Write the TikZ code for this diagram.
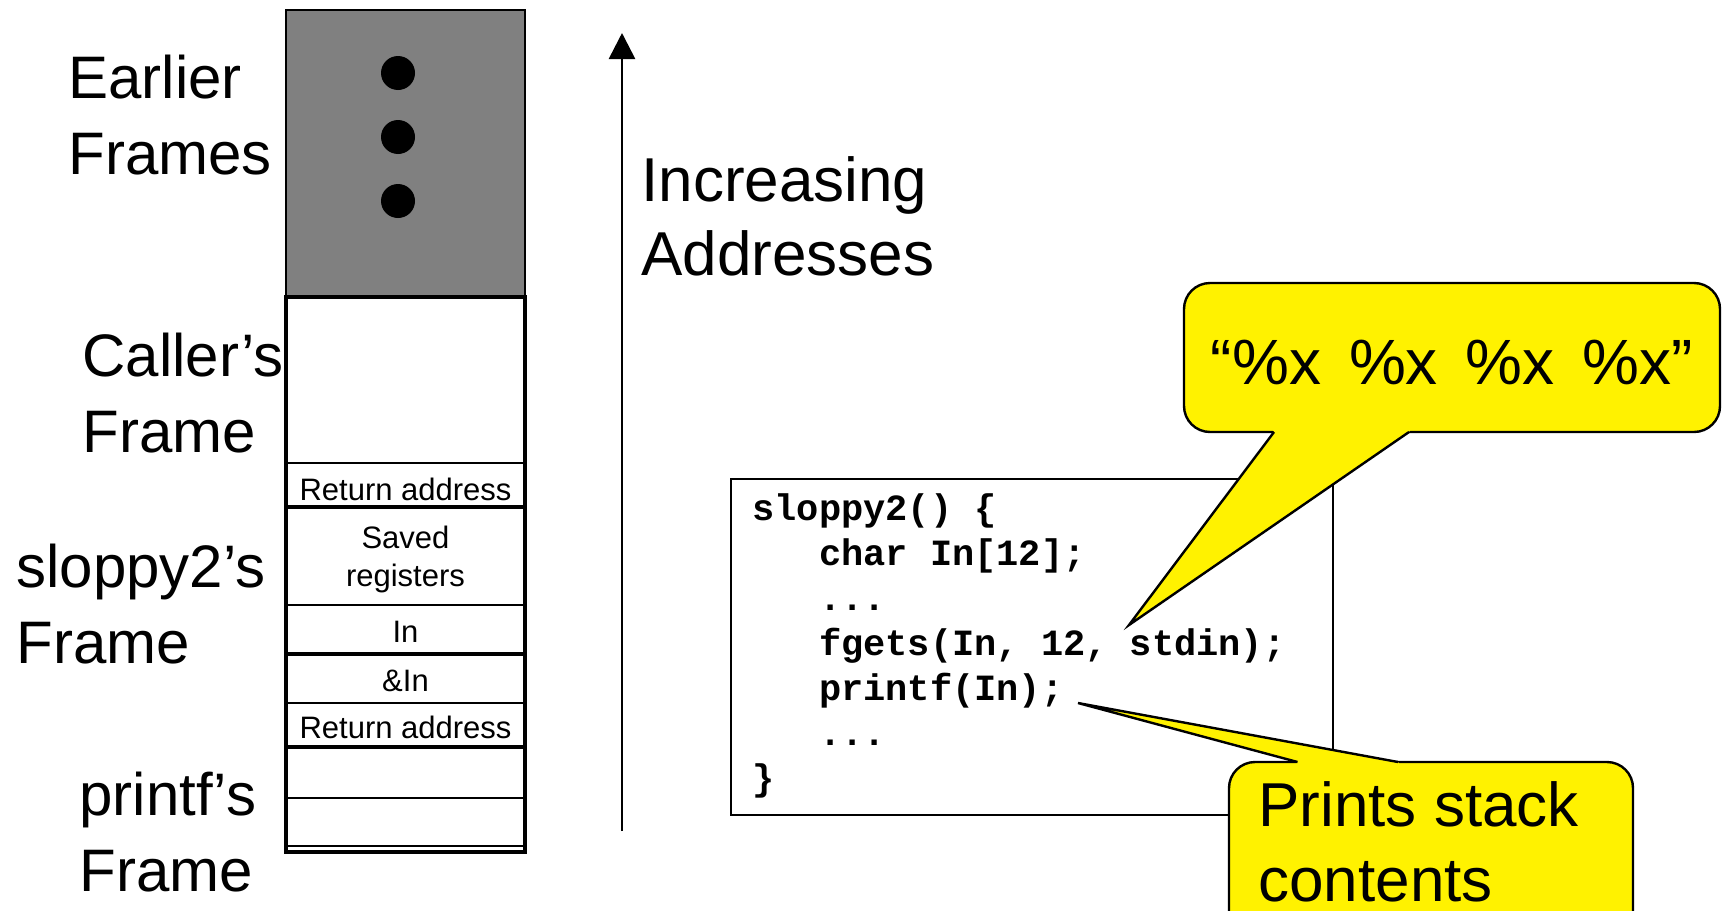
\documentclass[tikz,border=0pt]{standalone}
\usepackage{fontspec}
\setmainfont{Liberation Sans}
\newfontfamily\codefont{Liberation Mono}
\usetikzlibrary{arrows.meta}
\definecolor{framegray}{RGB}{128,128,128}
\begin{document}
\begin{tikzpicture}[x=0.5pt,y=-0.5pt,
	biglabel/.style={anchor=north west,align=left,inner sep=0pt,font=\fontsize{30}{38}\selectfont},
	celltext/.style={inner sep=0pt,font=\fontsize{15.5}{19}\selectfont},
	thinrule/.style={line width=1.1pt},
	thickrule/.style={line width=2.3pt},
	bubble/.style={draw,line width=1.2pt,fill=yellow,rounded corners=13pt},
]
	\clip (0,0) rectangle (1722,910);
	\draw[line width=1.3pt,fill=framegray] (286,10) rectangle (525,297);
	\foreach \y in {73,137,201}
		\fill (398,\y) circle (8.5pt);
	\draw[thickrule] (286,297) rectangle (525,852);
	\foreach \y in {463,605,703,798,846}
		\draw[thinrule] (286,\y) -- (525,\y);
	\foreach \y in {507,654,747}
		\draw[thickrule] (286,\y) -- (525,\y);
	\node[celltext,anchor=base] (ret1) at (405.5,500) {Return address};
	\node[celltext,align=center] (saved) at (405.5,559) {Saved\\registers};
	\node[celltext,anchor=base] (inbuf) at (405.5,642) {In};
	\node[celltext,anchor=base] (inaddr) at (405.5,691) {\&In};
	\node[celltext,anchor=base] (ret2) at (405.5,738) {Return address};
	\node[biglabel] (earlier) at (68,55) {Earlier\\Frames};
	\node[biglabel] (caller) at (82,333) {Caller’s\\Frame};
	\node[biglabel] (sloppy) at (16,544) {sloppy2’s\\Frame};
	\node[biglabel] (printf) at (79,772) {printf’s\\Frame};
	\coordinate (low) at (622,831);
	\coordinate (high) at (622,33);
	\draw[line width=1.3pt,-{Triangle[length=13pt,width=13pt]}] (low) -- (high);
	\node[biglabel,font=\fontsize{31}{37}\selectfont] (addr) at (641,156) {Increasing\\Addresses};
	\draw[line width=1.1pt] (731,479) rectangle (1333,815);
	\node[anchor=north west,align=left,inner sep=0pt,font=\codefont\bfseries\fontsize{18.5}{22.5}\selectfont] (code) at (752,480) {\rule{0pt}{20pt}sloppy2() \{\\
		\phantom{mmm}char In[12];\\
		\phantom{mmm}...\\
		\phantom{mmm}fgets(In, 12, stdin);\\
		\phantom{mmm}printf(In);\\
		\phantom{mmm}...\\
		\}};
	\coordinate (fmtL) at (1274,432);
	\coordinate (fmtR) at (1409,432);
	\coordinate (fmttip) at (1129,625);
	\draw[bubble] (1184,283) rectangle (1720,432);
	\fill[yellow] (1272,429) -- (fmtL) -- (fmttip) -- (fmtR) -- (1411,429) -- cycle;
	\draw[line width=1.2pt] (fmtL) -- (fmttip) -- (fmtR);
	\node[inner sep=0pt,anchor=base,font=\fontsize{32}{38}\selectfont] (fmt) at (1452,384) {“\%x\hspace{14pt}\%x\hspace{14pt}\%x\hspace{14pt}\%x”};
	\coordinate (outL) at (1297.5,762);
	\coordinate (outR) at (1398,762);
	\coordinate (outtip) at (1078,703);
	\draw[bubble] (1229,762) rectangle (1633,960);
	\fill[yellow] (1295.5,765) -- (outL) -- (outtip) -- (outR) -- (1400,765) -- cycle;
	\draw[line width=1.2pt] (outL) -- (outtip) -- (outR);
	\node[biglabel,font=\fontsize{31}{37.5}\selectfont] (prints) at (1258,781) {Prints stack\\contents};
\end{tikzpicture}
\end{document}
